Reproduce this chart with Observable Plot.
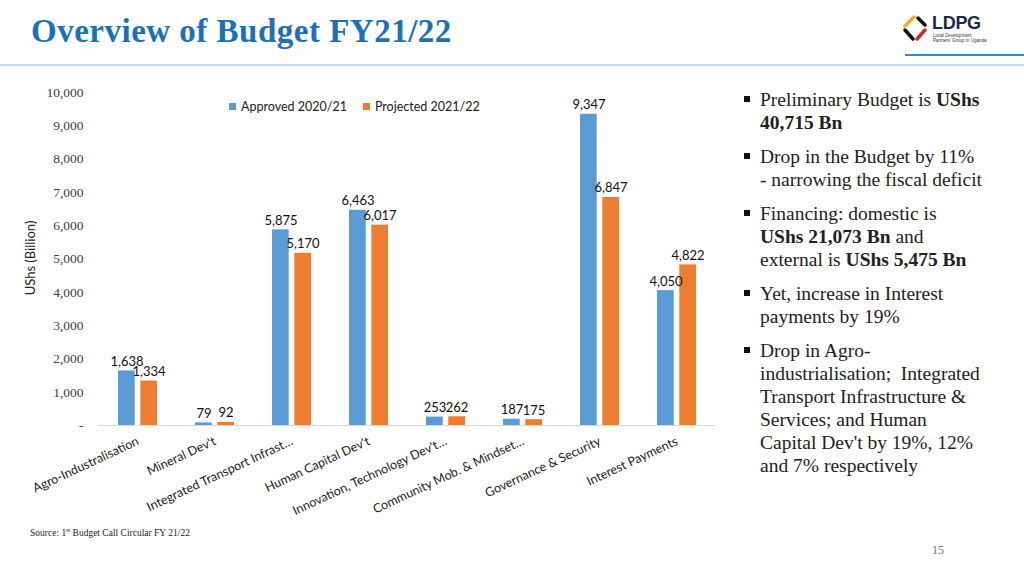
<!DOCTYPE html>
<html>
<head>
<meta charset="utf-8">
<script src="https://cdn.jsdelivr.net/npm/d3@7"></script>
<script src="https://cdn.jsdelivr.net/npm/@observablehq/plot@0.6"></script>
<style>
  html, body { margin: 0; padding: 0; background: #fff; }
  #page { position: relative; width: 1024px; height: 576px; overflow: hidden; background: #fff; }
  #title { position: absolute; left: 31px; top: 13px; font-family: "Liberation Serif", serif; font-weight: bold; font-size: 33px; color: #1c70b9; letter-spacing: 0.5px; white-space: nowrap; }
  #rule { position: absolute; left: 0; top: 64px; width: 1024px; height: 2px; background: #c5dcef; }
  #logoLine { position: absolute; left: 905px; top: 54px; width: 119px; height: 2px; background: #3a86c8; }
  #logo { position: absolute; left: 900px; top: 8px; width: 120px; height: 44px; }
  #logo svg { position: absolute; left: 0; top: 6px; }
  #logo .name { position: absolute; left: 32px; top: 5px; font-family: "Liberation Sans", sans-serif; font-size: 18px; font-weight: bold; color: #1b2a4a; letter-spacing: -0.3px; }
  #logo .sub { position: absolute; left: 33px; top: 25px; font-family: "Liberation Sans", sans-serif; font-size: 4.5px; line-height: 5px; color: #333; white-space: nowrap; }
  #chart { position: absolute; left: 0; top: 80px; }
  #legend { position: absolute; left: 229px; top: 99px; display: flex; gap: 16px; font-family: Lato, sans-serif; font-size: 12.5px; color: #222; }
  #legend span.sw { display: inline-block; width: 7px; height: 7px; margin-right: 5px; vertical-align: 1px; }
  #ylabel { position: absolute; left: 30px; top: 258px; transform: translate(-50%, -50%) rotate(-90deg); font-family: Lato, sans-serif; font-size: 13px; color: #222; white-space: nowrap; }
  #bullets { position: absolute; left: 742px; top: 88px; width: 282px; font-family: "Liberation Serif", serif; font-size: 19.5px; line-height: 23px; color: #222; white-space: nowrap; }
  #bullets .b { position: relative; padding-left: 18px; margin-bottom: 11px; }
  #bullets .b::before { content: ""; position: absolute; left: 2px; top: 8px; width: 6px; height: 6px; background: #111; }
  #source { position: absolute; left: 30px; top: 527px; font-family: "Liberation Serif", serif; font-size: 9.5px; color: #222; }
  #pagenum { position: absolute; left: 932px; top: 543px; font-family: "Liberation Serif", serif; font-size: 12px; color: #777; }
</style>
</head>
<body>
<div id="page">
  <div id="title">Overview of Budget FY21/22</div>
  <div id="logo">
    <svg width="30" height="30" viewBox="0 0 30 30">
      <path d="M14 3 L5 12" stroke="#f2b21b" stroke-width="3.5" fill="none" stroke-linecap="round"/>
      <path d="M5 16 L13 25" stroke="#111" stroke-width="3.5" fill="none" stroke-linecap="round"/>
      <path d="M18 4 L25 11" stroke="#111" stroke-width="3.5" fill="none" stroke-linecap="round"/>
      <path d="M25 16 L17 25" stroke="#d62a2a" stroke-width="3.5" fill="none" stroke-linecap="round"/>
    </svg>
    <span class="name">LDPG</span><span class="sub">Local Development<br>Partners' Group in Uganda</span>
  </div>
  <div id="logoLine"></div>
  <div id="rule"></div>
  <div id="chart"></div>
  <div id="legend">
    <div><span class="sw" style="background:#5b9bd5"></span>Approved 2020/21</div>
    <div><span class="sw" style="background:#ed7d31"></span>Projected 2021/22</div>
  </div>
  <div id="ylabel">UShs (Billion)</div>
  <div id="bullets">
    <div class="b">Preliminary Budget is <b>UShs</b><br><b>40,715 Bn</b></div>
    <div class="b">Drop in the Budget by 11%<br>- narrowing the fiscal deficit</div>
    <div class="b">Financing: domestic is<br><b>UShs 21,073 Bn</b> and<br>external is <b>UShs 5,475 Bn</b></div>
    <div class="b">Yet, increase in Interest<br>payments by 19%</div>
    <div class="b">Drop in Agro-<br>industrialisation;&nbsp; Integrated<br>Transport Infrastructure &amp;<br>Services; and Human<br>Capital Dev't by 19%, 12%<br>and 7% respectively</div>
  </div>
  <div id="source">Source: 1<sup style="font-size:6px">st</sup> Budget Call Circular FY 21/22</div>
  <div id="pagenum">15</div>
</div>
<script>
const categories = [
  "Agro-Industralisation",
  "Mineral Dev't",
  "Integrated Transport Infrast…",
  "Human Capital Dev't",
  "Innovation, Technology Dev't…",
  "Community Mob. & Mindset…",
  "Governance & Security",
  "Interest Payments"
];
const approved = [1638, 79, 5875, 6463, 253, 187, 9347, 4050];
const projected = [1334, 92, 5170, 6017, 262, 175, 6847, 4822];
const yTicks = [0, 1000, 2000, 3000, 4000, 5000, 6000, 7000, 8000, 9000, 10000];
const seriesNames = ["Approved 2020/21", "Projected 2021/22"];
const colors = ["#5b9bd5", "#ed7d31"];

const approvedRows = categories.map((c, i) => ({category: c, value: approved[i]}));
const projectedRows = categories.map((c, i) => ({category: c, value: projected[i]}));
const fmt = d3.format(",");

const chart = Plot.plot({
  width: 730,
  height: 430,
  marginTop: 12,
  marginBottom: 85,
  marginLeft: 98,
  marginRight: 14,
  style: {background: "transparent", overflow: "visible"},
  x: {domain: categories, paddingInner: 0.49, paddingOuter: 0.245, label: null},
  y: {domain: [0, 10000], label: null},
  marks: [
    Plot.axisY({ticks: yTicks, tickSize: 0, tickPadding: 15, tickFormat: d => d === 0 ? "-" : fmt(d),
      fontFamily: "Liberation Serif", fontSize: 13.5, fill: "#404040", label: null}),
    Plot.axisX({tickSize: 0, tickPadding: 15, tickRotate: -25, textAnchor: "end",
      fontFamily: "Lato", fontSize: 12.5, fill: "#222", label: null}),
    Plot.ruleY([0], {stroke: "#d9d9d9", strokeWidth: 1}),
    Plot.barY(approvedRows, {x: "category", y: "value", fill: colors[0], insetRight: 22.3}),
    Plot.barY(projectedRows, {x: "category", y: "value", fill: colors[1], insetLeft: 22.3}),
    Plot.text(approvedRows, {x: "category", y: "value", text: d => fmt(d.value), dx: -11, dy: -5,
      lineAnchor: "bottom", fontFamily: "Lato", fontSize: 13, fill: "#111"}),
    Plot.text(projectedRows, {x: "category", y: "value", text: d => fmt(d.value), dx: 11, dy: -5,
      lineAnchor: "bottom", fontFamily: "Lato", fontSize: 13, fill: "#111"})
  ]
});
document.getElementById("chart").appendChild(chart);
</script>
</body>
</html>
